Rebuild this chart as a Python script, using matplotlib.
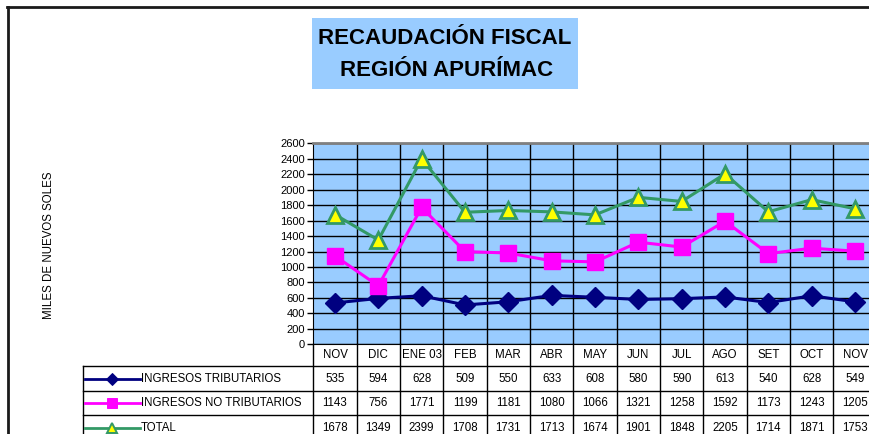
import matplotlib
matplotlib.use("Agg")
import matplotlib.pyplot as plt
from matplotlib.patches import Rectangle
from matplotlib.lines import Line2D
import matplotlib.transforms as mtransforms

plt.rcParams['font.family'] = ['Liberation Sans', 'DejaVu Sans']

categories = ["NOV", "DIC", "ENE 03", "FEB", "MAR", "ABR", "MAY", "JUN", "JUL", "AGO", "SET", "OCT", "NOV"]
tributarios = [535, 594, 628, 509, 550, 633, 608, 580, 590, 613, 540, 628, 549]
no_tributarios = [1143, 756, 1771, 1199, 1181, 1080, 1066, 1321, 1258, 1592, 1173, 1243, 1205]
total = [1678, 1349, 2399, 1708, 1731, 1713, 1674, 1901, 1848, 2205, 1714, 1871, 1753]
series_names = ["INGRESOS TRIBUTARIOS", "INGRESOS NO TRIBUTARIOS", "TOTAL"]
yticks = list(range(0, 2601, 200))

W, H = 870, 434
fig = plt.figure(figsize=(W / 100, H / 100), dpi=100)

# overlay axes in pixel coordinates for frame / title / legend column
bg = fig.add_axes([0, 0, 1, 1])
bg.set_xlim(0, W)
bg.set_ylim(H, 0)
bg.axis('off')
# outer frame (top and left visible)
bg.plot([8, 8], [H, 7], color='#1a1a1a', lw=2)
bg.plot([7, W], [7, 7], color='#1a1a1a', lw=2)
# title box
bg.add_patch(Rectangle((312, 18), 266, 71, facecolor='#99CCFF', edgecolor='none'))
bg.text(445, 39, "RECAUDACIÓN FISCAL", ha='center', va='center', fontsize=16, fontweight='bold')
bg.text(447, 70, "REGIÓN APURÍMAC", ha='center', va='center', fontsize=16, fontweight='bold')
bg.text(49, 245, "MILES DE NUEVOS SOLES", rotation=90, ha='center', va='center', fontsize=8.3)

# main plot axes
left_px, right_px, top_px, bot_px = 313.3, 876.7, 143.3, 344.3
ax = fig.add_axes([left_px / W, (H - bot_px) / H, (right_px - left_px) / W, (bot_px - top_px) / H])
ax.set_facecolor('#99CCFF')
n = len(categories)
x = list(range(n))
ax.set_xlim(-0.5, n - 0.5)
ax.set_ylim(0, 2600)
ax.set_yticks(yticks)
ax.set_yticklabels([str(v) for v in yticks], fontsize=8)
ax.tick_params(axis='y', length=4, width=1, pad=2, color='black')
ax.set_xticks([])
ax.yaxis.grid(True, color='black', lw=1)
for b in [i + 0.5 for i in range(n - 1)]:
    ax.axvline(b, color='black', lw=1, zorder=1)
ax.set_axisbelow(True)
for s in ['right']:
    ax.spines[s].set_visible(False)
ax.spines['top'].set_color('#808080')
ax.spines['top'].set_linewidth(2)
ax.spines['left'].set_color('black')
ax.spines['bottom'].set_color('black')

styles = [
    dict(color='#000080', marker='D', ms=10, mfc='#000080', mec='#000080', lw=2.2),
    dict(color='#FF00FF', marker='s', ms=11, mfc='#FF00FF', mec='#FF00FF', lw=2.2),
    dict(color='#339966', marker='^', ms=12, mfc='#FFFF00', mec='#339966', mew=2, lw=2.2),
]
data = [tributarios, no_tributarios, total]
for vals, st in zip(data, styles):
    ax.plot(x, vals, zorder=3, clip_on=False, **st)

# data table below the axes
trans = mtransforms.blended_transform_factory(ax.transData, bg.transData)
row_edges = [bot_px, 365.5, 390.5, 414.5, 440]
# header row labels
for i, c in enumerate(categories):
    ax.text(i, (row_edges[0] + row_edges[1]) / 2 + 0.5, c, transform=trans, ha='center', va='center', fontsize=8.3, clip_on=False)
# vertical lines in table
for b in [-0.5] + [i + 0.5 for i in range(n)]:
    ax.plot([b, b], [row_edges[0], row_edges[-1]], transform=trans, color='black', lw=1, clip_on=False)
# horizontal lines
for yy in row_edges[1:4]:
    bg.plot([83, W], [yy, yy], color='black', lw=1)
bg.plot([83, 83], [row_edges[1], row_edges[-1]], color='black', lw=1)
# values
for r, vals in enumerate(data):
    yc = (row_edges[r + 1] + row_edges[r + 2]) / 2 + 0.5
    for i, v in enumerate(vals):
        ax.text(i, yc, str(v), transform=trans, ha='center', va='center', fontsize=8.3, clip_on=False)
    st = dict(styles[r])
    ms = st.pop('ms')
    lw = st.pop('lw')
    bg.add_line(Line2D([85, 140], [yc, yc], lw=2, **{k: v for k, v in st.items() if k not in ('marker', 'mfc', 'mec', 'mew')}))
    bg.add_line(Line2D([112], [yc], marker=st['marker'], ms=ms * 0.6, mfc=st['mfc'], mec=st['mec'],
                       mew=st.get('mew', 1) * 0.7, lw=0))
    bg.text(141, yc, series_names[r], ha='left', va='center', fontsize=8.3)

fig.savefig("out.png", dpi=100)
